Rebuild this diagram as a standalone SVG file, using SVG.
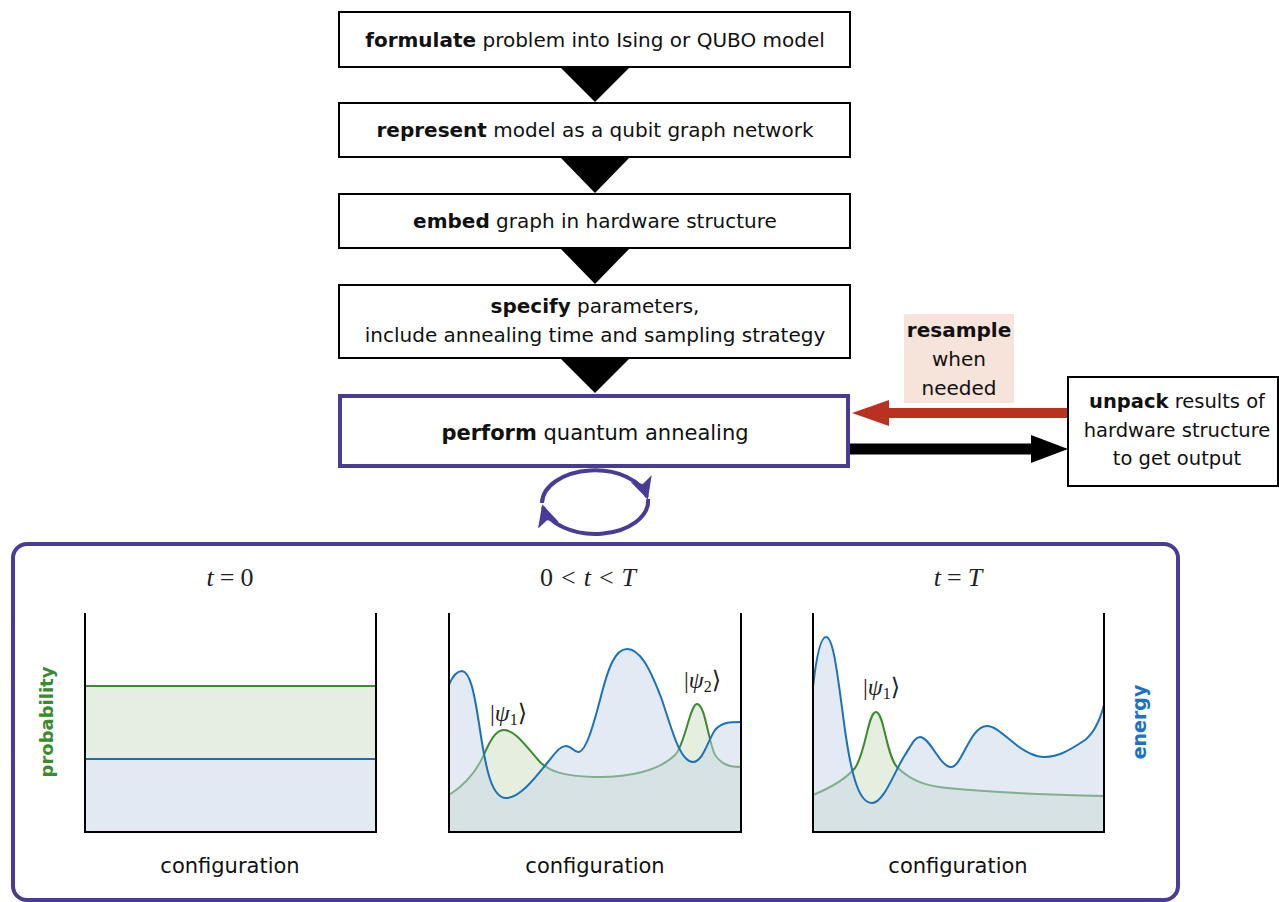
<svg xmlns="http://www.w3.org/2000/svg" width="1279" height="902" viewBox="0 0 1279 902">
<style>
  .box { fill: #ffffff; stroke: #000000; stroke-width: 2; }
  .txt { font-family: "DejaVu Sans", "Liberation Sans", sans-serif; font-size: 20px; fill: #111111; text-anchor: middle; }
  .b { font-weight: bold; }
  .tri { fill: #000000; }
  .math { font-family: "Liberation Serif", "DejaVu Serif", serif; font-size: 26px; fill: #222222; text-anchor: middle; }
  .mi { font-style: italic; }
  .axis { fill: none; stroke: #000000; stroke-width: 2; }
  .gfill { fill: #e6eedf; stroke: none; }
  .gline { fill: none; stroke: #3a8a2e; stroke-width: 2; }
  .bfill { fill: #c8d5ea; fill-opacity: 0.5; stroke: none; }
  .bline { fill: none; stroke: #1a72b8; stroke-width: 2; }
  .ket { font-family: "Liberation Serif", "DejaVu Serif", serif; font-size: 24px; fill: #222222; }
</style>
<defs>
  <marker id="cyc" markerUnits="userSpaceOnUse" markerWidth="22" markerHeight="22" viewBox="0 0 16 16" refX="14" refY="8" orient="auto">
    <path d="M0,0 L16,8 L0,16 L4,8 Z" fill="#4a3c96"/>
  </marker>
</defs>

<g id="connectors">
  <polygon class="tri" points="560,67 630,67 595,102"/>
  <polygon class="tri" points="560,157 630,157 595,193"/>
  <polygon class="tri" points="560,248 630,248 595,284"/>
  <polygon class="tri" points="560,358 630,358 595,393"/>
  <line x1="1068" y1="413" x2="884" y2="413" stroke="#b8321f" stroke-width="10"/>
  <polygon points="852,413 889,400 889,426" fill="#b8321f"/>
  <line x1="850" y1="449" x2="1034" y2="449" stroke="#000000" stroke-width="11"/>
  <polygon points="1068,449 1031,435 1031,463" fill="#000000"/>
  <path d="M542,503 A53,33 0 0 1 647,497" fill="none" stroke="#4a3c96" stroke-width="4" marker-end="url(#cyc)"/>
  <path d="M648,499 A53,33 0 0 1 543,507" fill="none" stroke="#4a3c96" stroke-width="4" marker-end="url(#cyc)"/>
</g>

<g id="n-formulate">
  <rect class="box" x="339" y="12" width="511" height="55"/>
  <text class="txt" x="595" y="47"><tspan class="b">formulate</tspan> problem into Ising or QUBO model</text>
</g>
<g id="n-represent">
  <rect class="box" x="339" y="103" width="511" height="54"/>
  <text class="txt" x="595" y="137"><tspan class="b">represent</tspan> model as a qubit graph network</text>
</g>
<g id="n-embed">
  <rect class="box" x="339" y="194" width="511" height="54"/>
  <text class="txt" x="595" y="228"><tspan class="b">embed</tspan> graph in hardware structure</text>
</g>
<g id="n-specify">
  <rect class="box" x="339" y="285" width="511" height="73"/>
  <text class="txt" x="595" y="313"><tspan class="b">specify</tspan> parameters,</text>
  <text class="txt" x="595" y="342">include annealing time and sampling strategy</text>
</g>
<g id="n-perform">
  <rect x="340" y="396" width="508" height="70" fill="#ffffff" stroke="#4a3c96" stroke-width="4"/>
  <text class="txt" x="595" y="440" style="font-size:21px"><tspan class="b">perform</tspan> quantum annealing</text>
</g>
<g id="n-resample">
  <rect x="904" y="314" width="110" height="89" fill="#f6e3da"/>
  <text class="txt" x="959" y="337"><tspan class="b">resample</tspan></text>
  <text class="txt" x="959" y="366">when</text>
  <text class="txt" x="959" y="395">needed</text>
</g>
<g id="n-unpack">
  <rect class="box" x="1068" y="377" width="210" height="109"/>
  <text class="txt" x="1177" y="408" style="font-size:19.5px"><tspan class="b">unpack</tspan> results of</text>
  <text class="txt" x="1177" y="437" style="font-size:19.5px">hardware structure</text>
  <text class="txt" x="1177" y="465" style="font-size:19.5px">to get output</text>
</g>

<g id="n-panel">
  <rect x="13" y="544" width="1165" height="356" rx="14" ry="14" fill="none" stroke="#4a3c96" stroke-width="4"/>
  <text x="48" y="722" transform="rotate(-90 48 722)" text-anchor="middle" dominant-baseline="middle" style="font-family:'DejaVu Sans','Liberation Sans',sans-serif;font-size:18px;font-weight:bold;fill:#3a8a2e">probability</text>
  <text x="1140" y="722" transform="rotate(-90 1140 722)" text-anchor="middle" dominant-baseline="middle" style="font-family:'DejaVu Sans','Liberation Sans',sans-serif;font-size:19px;font-weight:bold;fill:#1a72c0">energy</text>
</g>

<g id="n-plot1">
  <text class="math" x="230" y="586"><tspan class="mi">t</tspan><tspan dx="6">=</tspan><tspan dx="6">0</tspan></text>
  <rect x="85" y="686" width="291" height="73" fill="#e6eee3"/>
  <rect x="85" y="759" width="291" height="73" fill="#e3e9f3"/>
  <line x1="85" y1="686" x2="376" y2="686" stroke="#3a8a2e" stroke-width="2"/>
  <line x1="85" y1="759" x2="376" y2="759" stroke="#1a6fa8" stroke-width="2"/>
  <path class="axis" d="M85,613 L85,832 L376,832 L376,613"/>
  <text class="txt" x="230" y="873" style="font-size:21px">configuration</text>
</g>

<g id="n-plot2">
  <text class="math" x="588" y="586">0<tspan dx="8">&lt;</tspan><tspan class="mi" dx="8">t</tspan><tspan dx="8">&lt;</tspan><tspan class="mi" dx="8">T</tspan></text>
  <path class="gfill" d="M449,795 C465,785 478,770 486,750 C493,735 498,730 504,730 C515,730 525,745 540,762 C550,772 565,776 593,777 C630,778 660,770 675,755 C685,745 690,704 697,704 C705,704 708,740 715,755 C722,765 730,767 741,767 L741,832 L449,832 Z"/>
  <path class="gline" d="M449,795 C465,785 478,770 486,750 C493,735 498,730 504,730 C515,730 525,745 540,762 C550,772 565,776 593,777 C630,778 660,770 675,755 C685,745 690,704 697,704 C705,704 708,740 715,755 C722,765 730,767 741,767"/>
  <path class="bfill" d="M449,685 C453,675 457,671 462,671 C470,672 474,690 480,730 C486,770 492,798 506,798 C520,798 535,778 548,762 C556,752 560,746 566,746 C572,746 574,753 579,752 C586,750 592,730 600,700 C608,668 615,649 627,649 C640,649 650,668 662,700 C672,730 680,762 693,762 C703,762 708,740 715,730 C722,722 730,722 741,722 L741,832 L449,832 Z"/>
  <path class="bline" d="M449,685 C453,675 457,671 462,671 C470,672 474,690 480,730 C486,770 492,798 506,798 C520,798 535,778 548,762 C556,752 560,746 566,746 C572,746 574,753 579,752 C586,750 592,730 600,700 C608,668 615,649 627,649 C640,649 650,668 662,700 C672,730 680,762 693,762 C703,762 708,740 715,730 C722,722 730,722 741,722"/>
  <path class="axis" d="M449,613 L449,832 L741,832 L741,613"/>
  <text class="ket" x="490" y="721">|<tspan font-style="italic">ψ</tspan><tspan font-size="16" dy="4">1</tspan><tspan dy="-4">⟩</tspan></text>
  <text class="ket" x="684" y="688">|<tspan font-style="italic">ψ</tspan><tspan font-size="16" dy="4">2</tspan><tspan dy="-4">⟩</tspan></text>
  <text class="txt" x="595" y="873" style="font-size:21px">configuration</text>
</g>

<g id="n-plot3">
  <text class="math" x="958" y="586"><tspan class="mi">t</tspan><tspan dx="6">=</tspan><tspan class="mi" dx="6">T</tspan></text>
  <path class="gfill" d="M813,795 C830,788 845,780 855,768 C866,752 868,712 876,712 C884,712 886,755 897,767 C910,780 925,786 947,788 C990,792 1050,795 1104,796 L1104,832 L813,832 Z"/>
  <path class="gline" d="M813,795 C830,788 845,780 855,768 C866,752 868,712 876,712 C884,712 886,755 897,767 C910,780 925,786 947,788 C990,792 1050,795 1104,796"/>
  <path class="bfill" d="M813,687 C816,660 820,637 826,637 C834,637 838,680 845,730 C852,780 860,803 872,803 C884,803 895,770 905,755 C912,744 915,737 920,737 C930,737 940,767 951,767 C962,767 970,726 987,726 C1000,726 1015,750 1037,756 C1055,760 1070,750 1085,740 C1095,732 1100,720 1104,705 L1104,832 L813,832 Z"/>
  <path class="bline" d="M813,687 C816,660 820,637 826,637 C834,637 838,680 845,730 C852,780 860,803 872,803 C884,803 895,770 905,755 C912,744 915,737 920,737 C930,737 940,767 951,767 C962,767 970,726 987,726 C1000,726 1015,750 1037,756 C1055,760 1070,750 1085,740 C1095,732 1100,720 1104,705"/>
  <path class="axis" d="M813,613 L813,832 L1104,832 L1104,613"/>
  <text class="ket" x="863" y="695">|<tspan font-style="italic">ψ</tspan><tspan font-size="16" dy="4">1</tspan><tspan dy="-4">⟩</tspan></text>
  <text class="txt" x="958" y="873" style="font-size:21px">configuration</text>
</g>
</svg>
